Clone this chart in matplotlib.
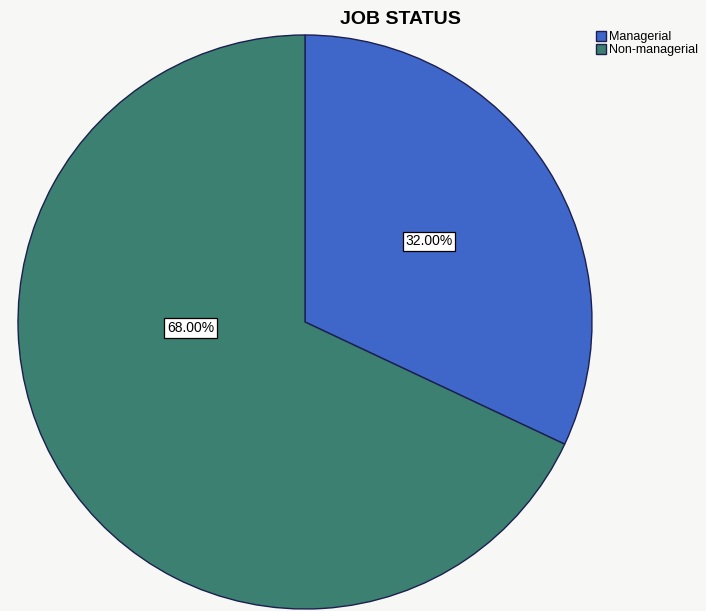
import numpy as np
import matplotlib.pyplot as plt

categories = ['Managerial', 'Non-managerial']
percents = [32.0, 68.0]
colors = ['#3F66C9', '#3B8070']

# label placement (angle deg, fraction of radius) as SPSS puts them
label_pos = [(33, 0.515), (183, 0.40)]

fig = plt.figure(figsize=(7.06, 6.11), dpi=100)
fig.patch.set_facecolor('#f7f7f5')

W, H = 706, 611
cx, cy, r = 305, 322, 287
ax = fig.add_axes([(cx - r) / W, (H - cy - r) / H, 2 * r / W, 2 * r / H])
ax.set_facecolor('none')

wedges, _ = ax.pie(percents, colors=colors, startangle=90, counterclock=False,
                   radius=1.0, wedgeprops=dict(edgecolor='#1c1f4f', linewidth=1.0))
ax.set_xlim(-1, 1)
ax.set_ylim(-1, 1)
ax.set_aspect('equal')

for p, (ang, dist) in zip(percents, label_pos):
    a = np.deg2rad(ang)
    ax.text(dist * np.cos(a), dist * np.sin(a), f'{p:.2f}%', ha='center', va='center',
            fontsize=10, family='Liberation Sans',
            bbox=dict(boxstyle='square,pad=0.2', facecolor='white', edgecolor='black', linewidth=0.9))

fig.text(400 / W, 1 - 19 / H, 'JOB STATUS', ha='center', va='center',
         fontsize=14, fontweight='bold', family='Liberation Sans')

fig.legend(wedges, categories, loc='upper left', bbox_to_anchor=(596 / W, 1 - 31 / H),
           frameon=False, prop={'family': 'Liberation Sans', 'size': 9},
           handlelength=0.8, handleheight=0.8, handletextpad=0.2, labelspacing=0.1,
           borderaxespad=0, borderpad=0)

fig.savefig('out.png', dpi=100, facecolor=fig.get_facecolor())
